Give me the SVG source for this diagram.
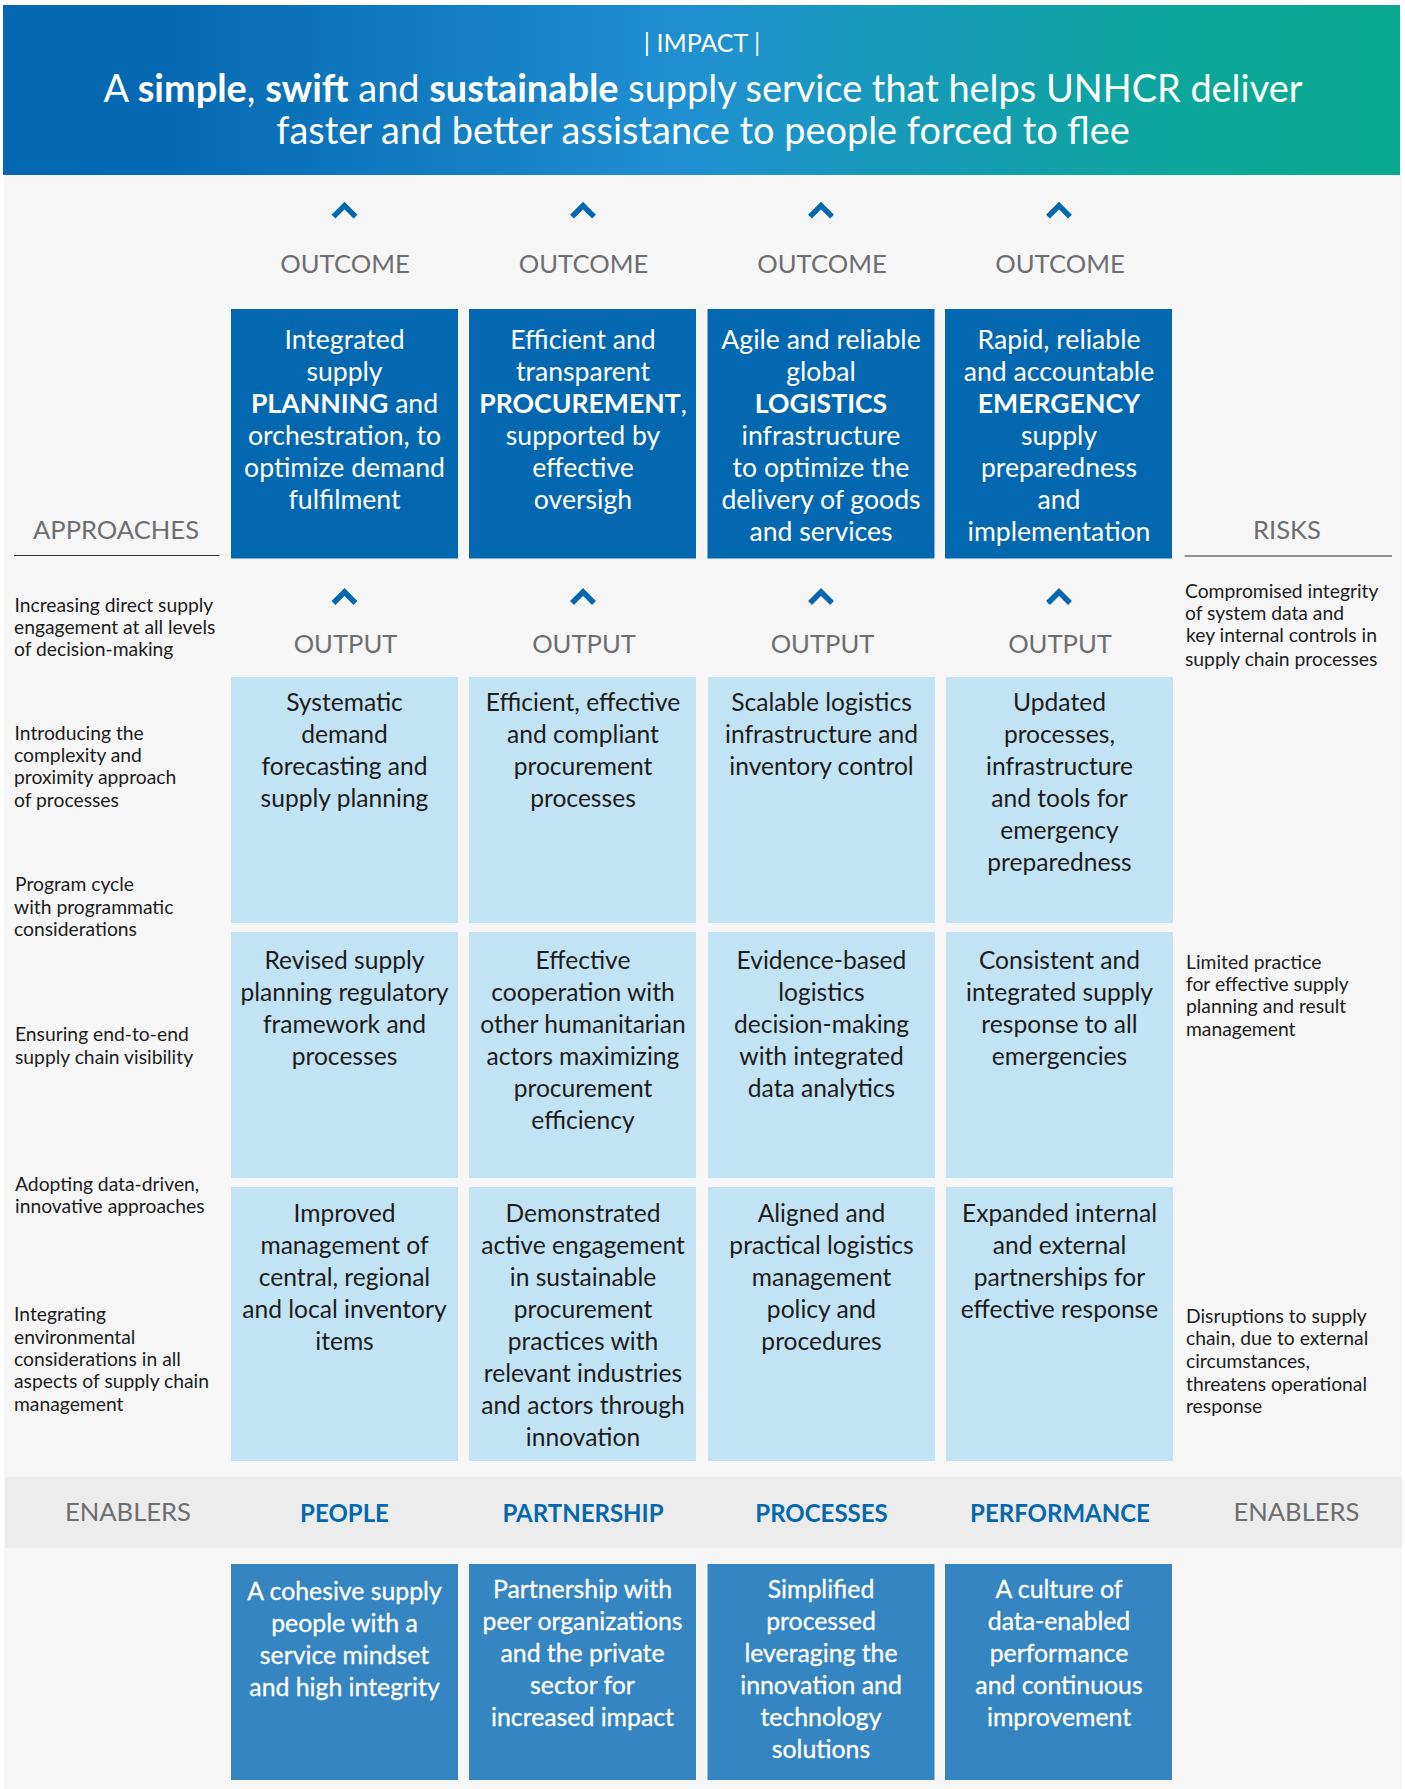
<svg xmlns="http://www.w3.org/2000/svg" width="1405" height="1789" viewBox="0 0 1405 1789">
<defs>
<linearGradient id="hg" x1="0" y1="0" x2="1" y2="0"><stop offset="0" stop-color="#0468b1"/><stop offset="0.12" stop-color="#0569b2"/><stop offset="0.49" stop-color="#2090d1"/><stop offset="0.85" stop-color="#0ba79a"/><stop offset="1" stop-color="#09a88f"/></linearGradient>
</defs>
<style>
text{font-family:"Lato","Liberation Sans",sans-serif}
.d{fill:#0468b1}.l{fill:#c2e3f4}.e{fill:#3585c2}
.w{font-size:26.6px;fill:#fff;text-anchor:middle}
.h{font-size:37.9px;fill:#fff;text-anchor:middle}
.v{font-size:24.8px;fill:#fff;stroke:#fff;stroke-width:.3px;text-anchor:middle}
.k{font-size:24.6px;fill:#1c1c1c;text-anchor:middle}
.g{font-size:25.6px;fill:#6d6e70;text-anchor:middle}
.n{font-size:19.3px;fill:#1c1c1c}
.p{font-size:24px;font-weight:700;fill:#0468b1;text-anchor:middle}
.b{font-weight:700}
.c{fill:none;stroke:#0468b1;stroke-width:5.5}
.r{stroke:#333;stroke-width:1.2}
</style>
<rect x="0" y="0" width="1405" height="1789" fill="#fff"/>
<rect x="4" y="175" width="1398" height="1614" fill="#f6f6f6"/>
<g id="impact">
<rect x="3" y="5" width="1397" height="170" fill="url(#hg)"/>
<text x="702" y="51.500" class="g" style="fill:#fff;font-size:25px">| IMPACT |</text>
<text x="703" y="101.500" class="h">A <tspan class="b">simple</tspan>, <tspan class="b">swift</tspan> and <tspan class="b">sustainable</tspan> supply service that helps UNHCR deliver</text>
<text x="703" y="144" class="h">faster and better assistance to people forced to flee</text>
</g>
<g id="connectors">
<path class="c" d="M333.500 216.600L344.500 205.600L355.500 216.600M572 216.600L583 205.600L594 216.600M810 216.600L821 205.600L832 216.600M1048 216.600L1059 205.600L1070 216.600"/>
<path class="c" d="M333.500 603L344.500 592L355.500 603M572 603L583 592L594 603M810 603L821 592L832 603M1048 603L1059 592L1070 603"/>
</g>
<g id="labels">
<text x="345" y="273" class="g">OUTCOME</text><text x="583.500" y="273" class="g">OUTCOME</text><text x="822" y="273" class="g">OUTCOME</text><text x="1060" y="273" class="g">OUTCOME</text>
<text x="345.500" y="653" class="g">OUTPUT</text><text x="584" y="653" class="g">OUTPUT</text><text x="822.500" y="653" class="g">OUTPUT</text><text x="1060" y="653" class="g">OUTPUT</text>
<text x="116" y="538.500" class="g">APPROACHES</text><line class="r" x1="14" y1="555.500" x2="219.500" y2="555.500"/>
<text x="1287" y="538.500" class="g">RISKS</text><line class="r" x1="1184.500" y1="556" x2="1392" y2="556"/>
</g>
<g id="outcome-planning"><rect class="d" x="231" y="309" width="227" height="249.500"/>
<text class="w" x="344.500" y="348.500">Integrated</text><text class="w" x="344.500" y="380.500">supply</text><text class="w" x="344.500" y="412.500"><tspan class="b">PLANNING</tspan> and</text><text class="w" x="344.500" y="444.500">orchestration, to</text><text class="w" x="344.500" y="476.500">optimize demand</text><text class="w" x="344.500" y="508.500">fulfilment</text></g>
<g id="outcome-procurement"><rect class="d" x="469" y="309" width="227" height="249.500"/>
<text class="w" x="583" y="348.500">Efficient and</text><text class="w" x="583" y="380.500">transparent</text><text class="w" x="583" y="412.500"><tspan class="b">PROCUREMENT</tspan>,</text><text class="w" x="583" y="444.500">supported by</text><text class="w" x="583" y="476.500">effective</text><text class="w" x="583" y="508.500">oversigh</text></g>
<g id="outcome-logistics"><rect class="d" x="707.500" y="309" width="227" height="249.500"/>
<text class="w" x="821" y="348.500">Agile and reliable</text><text class="w" x="821" y="380.500">global</text><text class="w" x="821" y="412.500"><tspan class="b">LOGISTICS</tspan></text><text class="w" x="821" y="444.500">infrastructure</text><text class="w" x="821" y="476.500">to optimize the</text><text class="w" x="821" y="508.500">delivery of goods</text><text class="w" x="821" y="540.500">and services</text></g>
<g id="outcome-emergency"><rect class="d" x="945" y="309" width="227" height="249.500"/>
<text class="w" x="1059" y="348.500">Rapid, reliable</text><text class="w" x="1059" y="380.500">and accountable</text><text class="w" x="1059" y="412.500"><tspan class="b">EMERGENCY</tspan></text><text class="w" x="1059" y="444.500">supply</text><text class="w" x="1059" y="476.500">preparedness</text><text class="w" x="1059" y="508.500">and</text><text class="w" x="1059" y="540.500">implementation</text></g>
<g id="output-1-1"><rect class="l" x="231" y="677" width="227" height="246"/>
<text class="k" x="344.500" y="710.500">Systematic</text><text class="k" x="344.500" y="742.500">demand</text><text class="k" x="344.500" y="774.500">forecasting and</text><text class="k" x="344.500" y="806.500">supply planning</text></g>
<g id="output-1-2"><rect class="l" x="469" y="677" width="227" height="246"/>
<text class="k" x="583" y="710.500">Efficient, effective</text><text class="k" x="583" y="742.500">and compliant</text><text class="k" x="583" y="774.500">procurement</text><text class="k" x="583" y="806.500">processes</text></g>
<g id="output-1-3"><rect class="l" x="708" y="677" width="227" height="246"/>
<text class="k" x="821.500" y="710.500">Scalable logistics</text><text class="k" x="821.500" y="742.500">infrastructure and</text><text class="k" x="821.500" y="774.500">inventory control</text></g>
<g id="output-1-4"><rect class="l" x="946" y="677" width="227" height="246"/>
<text class="k" x="1059.500" y="710.500">Updated</text><text class="k" x="1059.500" y="742.500">processes,</text><text class="k" x="1059.500" y="774.500">infrastructure</text><text class="k" x="1059.500" y="806.500">and tools for</text><text class="k" x="1059.500" y="838.500">emergency</text><text class="k" x="1059.500" y="870.500">preparedness</text></g>
<g id="output-2-1"><rect class="l" x="231" y="932" width="227" height="246"/>
<text class="k" x="344.500" y="968.500">Revised supply</text><text class="k" x="344.500" y="1000.500">planning regulatory</text><text class="k" x="344.500" y="1032.500">framework and</text><text class="k" x="344.500" y="1064.500">processes</text></g>
<g id="output-2-2"><rect class="l" x="469" y="932" width="227" height="246"/>
<text class="k" x="583" y="968.500">Effective</text><text class="k" x="583" y="1000.500">cooperation with</text><text class="k" x="583" y="1032.500">other humanitarian</text><text class="k" x="583" y="1064.500">actors maximizing</text><text class="k" x="583" y="1096.500">procurement</text><text class="k" x="583" y="1128.500">efficiency</text></g>
<g id="output-2-3"><rect class="l" x="708" y="932" width="227" height="246"/>
<text class="k" x="821.500" y="968.500">Evidence-based</text><text class="k" x="821.500" y="1000.500">logistics</text><text class="k" x="821.500" y="1032.500">decision-making</text><text class="k" x="821.500" y="1064.500">with integrated</text><text class="k" x="821.500" y="1096.500">data analytics</text></g>
<g id="output-2-4"><rect class="l" x="946" y="932" width="227" height="246"/>
<text class="k" x="1059.500" y="968.500">Consistent and</text><text class="k" x="1059.500" y="1000.500">integrated supply</text><text class="k" x="1059.500" y="1032.500">response to all</text><text class="k" x="1059.500" y="1064.500">emergencies</text></g>
<g id="output-3-1"><rect class="l" x="231" y="1187" width="227" height="274"/>
<text class="k" x="344.500" y="1221.500">Improved</text><text class="k" x="344.500" y="1253.500">management of</text><text class="k" x="344.500" y="1285.500">central, regional</text><text class="k" x="344.500" y="1317.500">and local inventory</text><text class="k" x="344.500" y="1349.500">items</text></g>
<g id="output-3-2"><rect class="l" x="469" y="1187" width="227" height="274"/>
<text class="k" x="583" y="1221.500">Demonstrated</text><text class="k" x="583" y="1253.500">active engagement</text><text class="k" x="583" y="1285.500">in sustainable</text><text class="k" x="583" y="1317.500">procurement</text><text class="k" x="583" y="1349.500">practices with</text><text class="k" x="583" y="1381.500">relevant industries</text><text class="k" x="583" y="1413.500">and actors through</text><text class="k" x="583" y="1445.500">innovation</text></g>
<g id="output-3-3"><rect class="l" x="708" y="1187" width="227" height="274"/>
<text class="k" x="821.500" y="1221.500">Aligned and</text><text class="k" x="821.500" y="1253.500">practical logistics</text><text class="k" x="821.500" y="1285.500">management</text><text class="k" x="821.500" y="1317.500">policy and</text><text class="k" x="821.500" y="1349.500">procedures</text></g>
<g id="output-3-4"><rect class="l" x="946" y="1187" width="227" height="274"/>
<text class="k" x="1059.500" y="1221.500">Expanded internal</text><text class="k" x="1059.500" y="1253.500">and external</text><text class="k" x="1059.500" y="1285.500">partnerships for</text><text class="k" x="1059.500" y="1317.500">effective response</text></g>
<g id="approaches">
<text class="n" x="14.500" y="612">Increasing direct supply</text><text class="n" x="14" y="633.500">engagement at all levels</text><text class="n" x="14" y="656">of decision-making</text>
<text class="n" x="14.500" y="740">Introducing the</text><text class="n" x="14" y="762">complexity and</text><text class="n" x="14" y="784">proximity approach</text><text class="n" x="14" y="807">of processes</text>
<text class="n" x="15" y="891">Program cycle</text><text class="n" x="14" y="914">with programmatic</text><text class="n" x="14" y="936">considerations</text>
<text class="n" x="15" y="1041">Ensuring end-to-end</text><text class="n" x="15" y="1064">supply chain visibility</text>
<text class="n" x="15" y="1191">Adopting data-driven,</text><text class="n" x="15" y="1213">innovative approaches</text>
<text class="n" x="14" y="1321">Integrating</text><text class="n" x="14" y="1344">environmental</text><text class="n" x="14" y="1366">considerations in all</text><text class="n" x="14" y="1388">aspects of supply chain</text><text class="n" x="14" y="1411">management</text>
</g>
<g id="risks">
<text class="n" x="1185" y="598">Compromised integrity</text><text class="n" x="1185" y="620">of system data and</text><text class="n" x="1186" y="642">key internal controls in</text><text class="n" x="1185" y="665.500">supply chain processes</text>
<text class="n" x="1186" y="969">Limited practice</text><text class="n" x="1186" y="991">for effective supply</text><text class="n" x="1186" y="1013">planning and result</text><text class="n" x="1186" y="1036">management</text>
<text class="n" x="1186" y="1323">Disruptions to supply</text><text class="n" x="1186" y="1345">chain, due to external</text><text class="n" x="1186" y="1368">circumstances,</text><text class="n" x="1186" y="1391">threatens operational</text><text class="n" x="1186" y="1413">response</text>
</g>
<g id="enablers-band">
<rect x="5" y="1477" width="1397" height="71" fill="#ececec"/>
<text x="128" y="1521" class="g">ENABLERS</text><text x="1296.500" y="1521" class="g">ENABLERS</text>
<text x="344.500" y="1522" class="p">PEOPLE</text><text x="583" y="1522" class="p">PARTNERSHIP</text><text x="821.500" y="1522" class="p">PROCESSES</text><text x="1060" y="1522" class="p">PERFORMANCE</text>
</g>
<g id="enabler-people"><rect class="e" x="231" y="1564" width="227" height="216"/>
<text class="v" x="344.500" y="1600">A cohesive supply</text><text class="v" x="344.500" y="1632">people with a</text><text class="v" x="344.500" y="1664">service mindset</text><text class="v" x="344.500" y="1696">and high integrity</text></g>
<g id="enabler-partnership"><rect class="e" x="469" y="1564" width="227" height="216"/>
<text class="v" x="582.500" y="1598">Partnership with</text><text class="v" x="582.500" y="1630">peer organizations</text><text class="v" x="582.500" y="1662">and the private</text><text class="v" x="582.500" y="1694">sector for</text><text class="v" x="582.500" y="1726">increased impact</text></g>
<g id="enabler-processes"><rect class="e" x="707.500" y="1564" width="227" height="216"/>
<text class="v" x="821" y="1598">Simplified</text><text class="v" x="821" y="1630">processed</text><text class="v" x="821" y="1662">leveraging the</text><text class="v" x="821" y="1694">innovation and</text><text class="v" x="821" y="1726">technology</text><text class="v" x="821" y="1758">solutions</text></g>
<g id="enabler-performance"><rect class="e" x="945" y="1564" width="227" height="216"/>
<text class="v" x="1059" y="1598">A culture of</text><text class="v" x="1059" y="1630">data-enabled</text><text class="v" x="1059" y="1662">performance</text><text class="v" x="1059" y="1694">and continuous</text><text class="v" x="1059" y="1726">improvement</text></g>
</svg>
